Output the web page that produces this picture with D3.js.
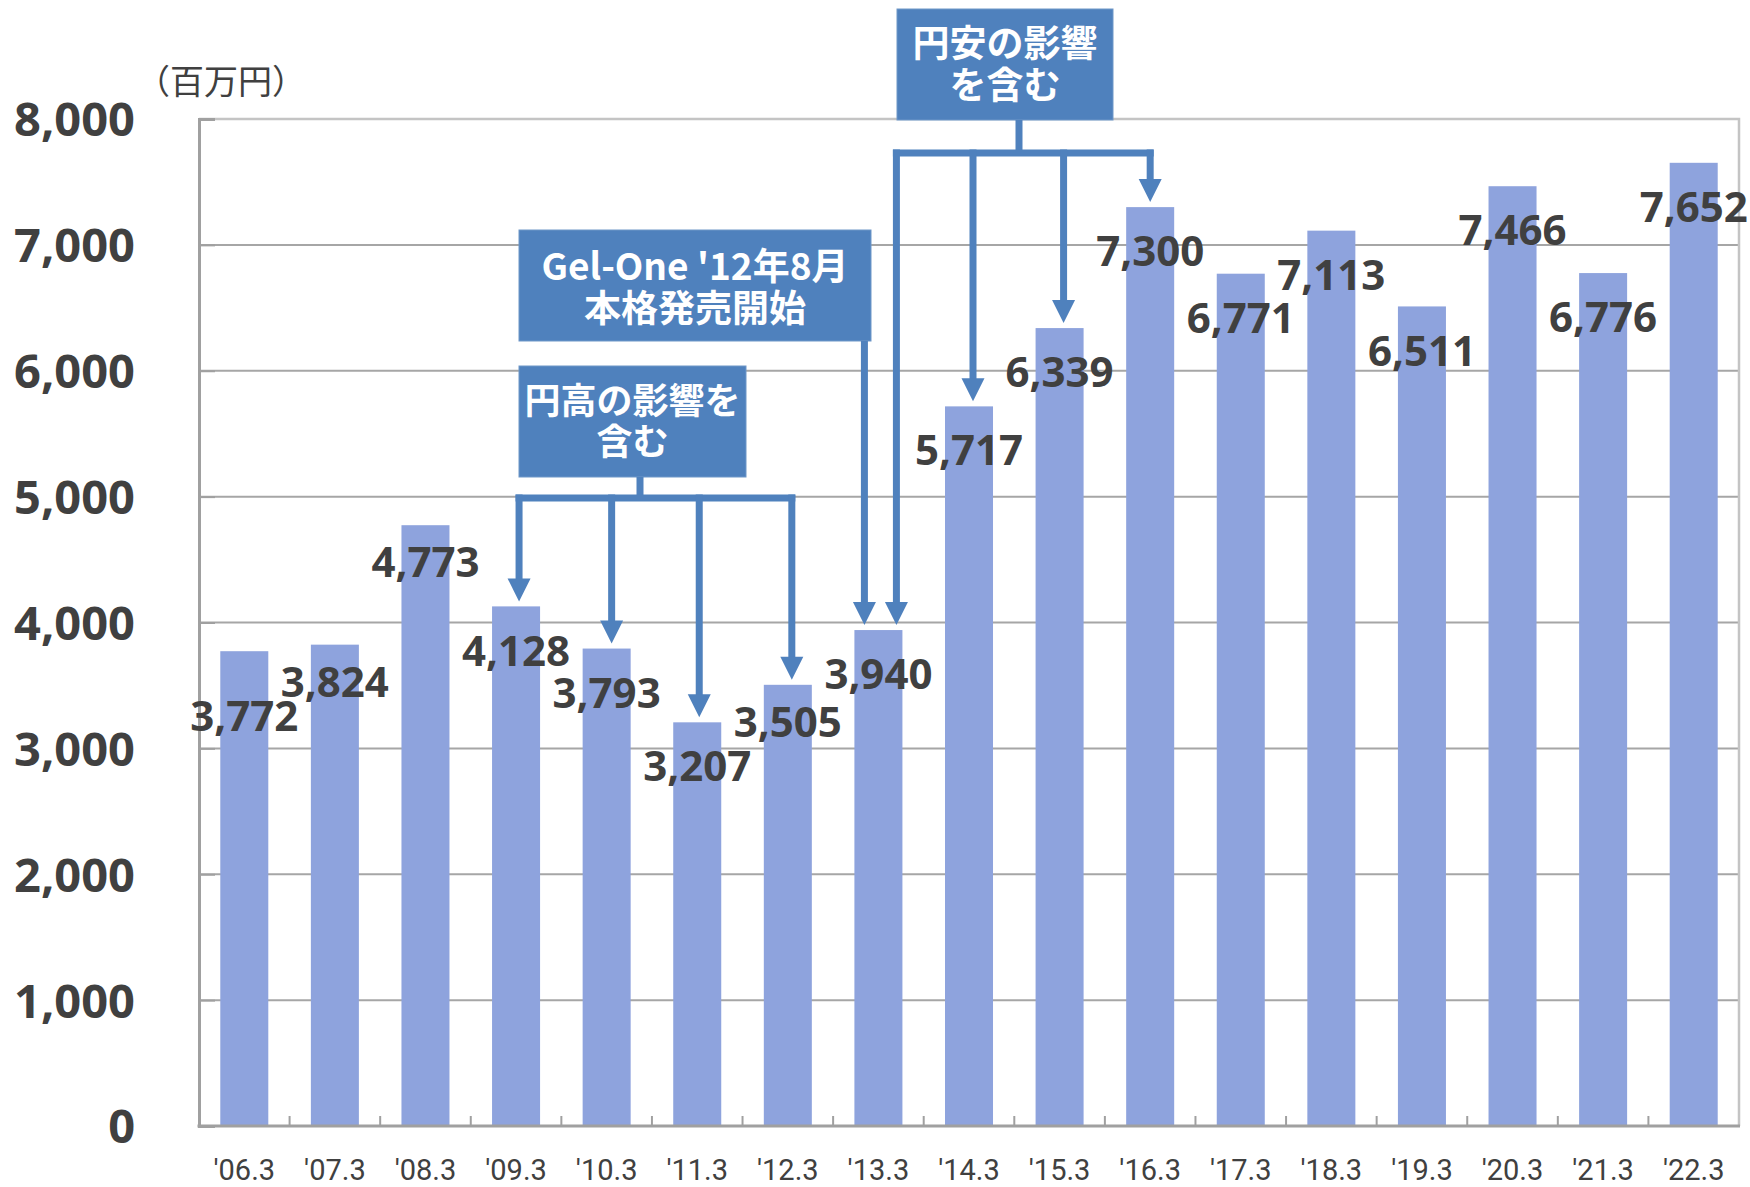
<!DOCTYPE html>
<html>
<head>
<meta charset="utf-8">
<script src="https://cdn.jsdelivr.net/npm/d3@7"></script>
<style>
  body { margin: 0; background: #fff; }
  svg { display: block; }
</style>
</head>
<body>
<svg id="chart" width="1750" height="1187"></svg>
<script>
// fiscal years (March)
const categories = ["'06.3", "'07.3", "'08.3", "'09.3", "'10.3", "'11.3", "'12.3", "'13.3", "'14.3",
                    "'15.3", "'16.3", "'17.3", "'18.3", "'19.3", "'20.3", "'21.3", "'22.3"];
const sales = [3772, 3824, 4773, 4128, 3793, 3207, 3505, 3940, 5717,
               6339, 7300, 6771, 7113, 6511, 7466, 6776, 7652];
const yTicks = [0, 1000, 2000, 3000, 4000, 5000, 6000, 7000, 8000];
const unitLabel = "（百万円）";

// callouts
const yenStrongText = ["円高の影響を", "含む"];
const yenStrongTargets = ["'09.3", "'10.3", "'11.3", "'12.3"];
const yenWeakText = ["円安の影響", "を含む"];
const yenWeakTargets = ["'13.3", "'14.3", "'15.3", "'16.3"];
const gelOneText = ["Gel-One '12年8月", "本格発売開始"];
const gelOneTarget = "'13.3";

const W = 1750, H = 1187;
const plot = { left: 199, right: 1739, top: 119, bottom: 1126 };
const numFont = '"Open Sans", "Noto Sans", sans-serif';
const jpFont = '"Noto Sans CJK JP", "Noto Sans", sans-serif';
const textColor = "#404040";
const calloutBlue = "#4F81BD";

const svg = d3.select("#chart");

const x = d3.scaleBand()
    .domain(categories)
    .range([plot.left, plot.right])
    .paddingInner(0.47)
    .paddingOuter(0.235);

const y = d3.scaleLinear()
    .domain([0, 8000])
    .range([plot.bottom, plot.top]);

const cx = c => x(c) + x.bandwidth() / 2;

// grid lines
svg.append("g")
    .selectAll("line")
    .data(yTicks.filter(t => t > 0 && t < 8000))
    .join("line")
    .attr("x1", plot.left).attr("x2", plot.right)
    .attr("y1", d => y(d)).attr("y2", d => y(d))
    .attr("stroke", "#A6A6A6")
    .attr("stroke-width", 2);

// top / right frame
svg.append("path")
    .attr("d", `M${plot.left},${y(8000)}H${plot.right}V${plot.bottom}`)
    .attr("fill", "none")
    .attr("stroke", "#C4C4C4")
    .attr("stroke-width", 2.5);

// bars
svg.append("g")
    .selectAll("rect")
    .data(sales)
    .join("rect")
    .attr("x", (d, i) => x(categories[i]))
    .attr("y", d => y(d))
    .attr("width", x.bandwidth())
    .attr("height", d => y(0) - y(d))
    .attr("fill", "#8EA3DD");

// axes
const yAxis = svg.append("g")
    .attr("transform", `translate(${plot.left},0)`)
    .call(d3.axisLeft(y).tickValues(yTicks).tickSize(-16).tickPadding(64)
        .tickFormat(d3.format(",")));
yAxis.select(".domain").attr("stroke", "#A0A0A0").attr("stroke-width", 3);
yAxis.selectAll(".tick line").attr("stroke", "#A0A0A0").attr("stroke-width", 2);
yAxis.selectAll(".tick text")
    .attr("fill", textColor)
    .attr("dy", "0.36em")
    .style("font-family", numFont)
    .style("font-size", "47px")
    .style("font-weight", "bold");

const step = x.step();
const bounds = d3.range(1, categories.length).map(i => plot.left + i * step);
svg.append("g")
    .selectAll("line")
    .data(bounds)
    .join("line")
    .attr("x1", d => d).attr("x2", d => d)
    .attr("y1", plot.bottom).attr("y2", plot.bottom - 10)
    .attr("stroke", "#A0A0A0")
    .attr("stroke-width", 2);

svg.append("line")
    .attr("x1", plot.left - 1.5).attr("x2", plot.right + 1)
    .attr("y1", plot.bottom).attr("y2", plot.bottom)
    .attr("stroke", "#A0A0A0")
    .attr("stroke-width", 3);

svg.append("g")
    .selectAll("text")
    .data(categories)
    .join("text")
    .attr("x", d => cx(d))
    .attr("y", 1170)
    .attr("dy", "0.36em")
    .attr("text-anchor", "middle")
    .attr("fill", textColor)
    .style("font-family", "Roboto, sans-serif")
    .style("font-size", "29px")
    .text(d => d);

// unit label
svg.append("text")
    .attr("x", 221).attr("y", 79)
    .attr("text-anchor", "middle")
    .attr("dominant-baseline", "central")
    .attr("fill", textColor)
    .style("font-family", jpFont)
    .style("font-size", "34px")
    .text(unitLabel);

// value labels (a few nudged like the original)
const labelDy = { "'06.3": 21, "'07.3": -7, "'08.3": -7, "'12.3": -7 };
svg.append("g")
    .selectAll("text")
    .data(sales)
    .join("text")
    .attr("x", (d, i) => cx(categories[i]))
    .attr("y", (d, i) => y(d) + 44 + (labelDy[categories[i]] || 0))
    .attr("dy", "0.36em")
    .attr("text-anchor", "middle")
    .attr("fill", textColor)
    .style("font-family", numFont)
    .style("font-size", "42px")
    .style("font-weight", "bold")
    .text(d => d3.format(",")(d));

// callouts
const lw = 7, headW = 23, headH = 23, tipGap = 5;
const ann = svg.append("g");

function box(x0, y0, x1, y1, lines, lineYs, size) {
    ann.append("rect")
        .attr("x", x0).attr("y", y0)
        .attr("width", x1 - x0).attr("height", y1 - y0)
        .attr("fill", calloutBlue)
        .attr("stroke", "#6F97C8")
        .attr("stroke-width", 1);
    lines.forEach((t, i) => {
        ann.append("text")
            .attr("x", (x0 + x1) / 2).attr("y", lineYs[i])
            .attr("text-anchor", "middle")
            .attr("dominant-baseline", "central")
            .attr("fill", "#fff")
            .style("font-family", jpFont)
            .style("font-size", size + "px")
            .style("font-weight", "bold")
            .text(t);
    });
}

function arrow(ax, fromY, cat) {
    const tip = y(sales[categories.indexOf(cat)]) - tipGap;
    ann.append("line")
        .attr("x1", ax).attr("x2", ax)
        .attr("y1", fromY).attr("y2", tip - headH + 2)
        .attr("stroke", calloutBlue)
        .attr("stroke-width", lw);
    ann.append("path")
        .attr("d", `M${ax - headW / 2},${tip - headH}L${ax + headW / 2},${tip - headH}L${ax},${tip}Z`)
        .attr("fill", calloutBlue);
}

function tree(stemX, boxBottom, hy, targets, offsets) {
    const xs = targets.map((c, i) => cx(c) + offsets[i]);
    ann.append("line")
        .attr("x1", stemX).attr("x2", stemX)
        .attr("y1", boxBottom).attr("y2", hy)
        .attr("stroke", calloutBlue).attr("stroke-width", lw);
    ann.append("line")
        .attr("x1", d3.min(xs) - lw / 2).attr("x2", d3.max(xs) + lw / 2)
        .attr("y1", hy).attr("y2", hy)
        .attr("stroke", calloutBlue).attr("stroke-width", lw);
    xs.forEach((ax, i) => arrow(ax, hy - lw / 2, targets[i]));
}

// 円高
box(519, 366, 746, 477, yenStrongText, [398, 439], 36);
tree(640, 477, 498, yenStrongTargets, [3, 5, 2, 4]);

// 円安
box(897, 9, 1113, 120, yenWeakText, [41, 83], 37);
tree(1019, 120, 153, yenWeakTargets, [18, 4, 4, 0]);

// Gel-One
box(519, 230, 871, 341, gelOneText, [264, 306], 37);
arrow(cx(gelOneTarget) - 14, 341, gelOneTarget);
</script>
</body>
</html>
